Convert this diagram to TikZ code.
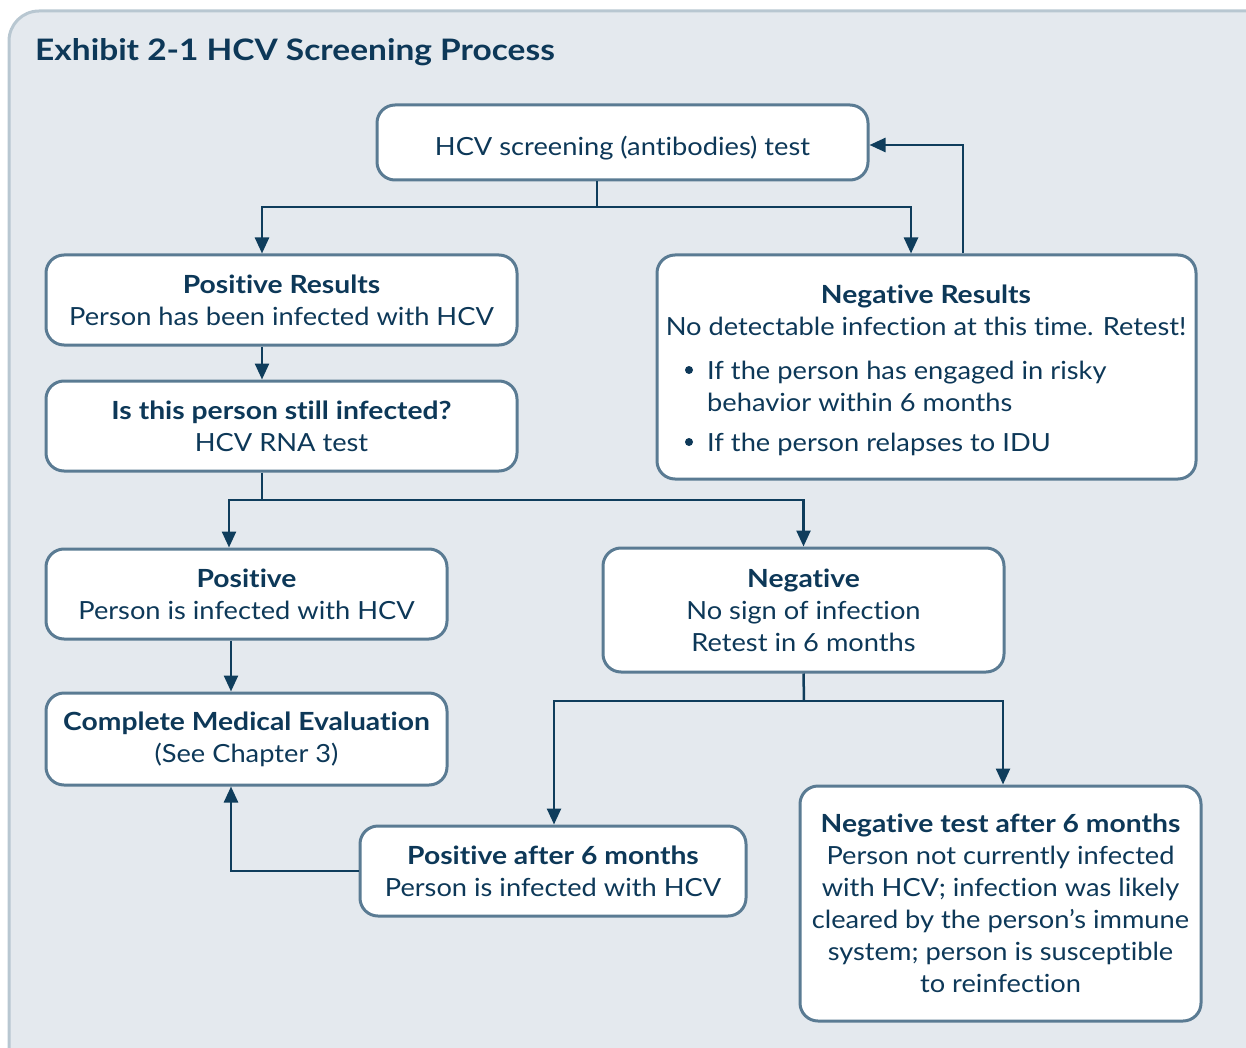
\documentclass[tikz,border=0pt]{standalone}
\usepackage{fontspec}
\setmainfont{Lato}[FakeStretch=1.09, Ligatures=NoCommon, BoldFeatures={FakeStretch=1.13}]
\usetikzlibrary{arrows.meta}
\definecolor{bgc}{HTML}{E4E9EE}
\definecolor{outc}{HTML}{B8C7D1}
\definecolor{bordc}{HTML}{5A7B93}
\definecolor{arrc}{HTML}{0F3D5C}
\definecolor{txtc}{HTML}{0D3858}
\begin{document}
\begin{tikzpicture}[x=1pt,y=-1pt,
  box/.style={draw=bordc, line width=3pt, rounded corners=18pt, fill=white, inner sep=0pt, align=center, text=txtc, font=\fontsize{25}{32}\selectfont},
  plain/.style={inner sep=0pt, text=txtc, font=\fontsize{25}{32}\selectfont},
  line/.style={draw=arrc, line width=2.5pt},
  conn/.style={draw=arrc, line width=2.5pt, -{Triangle[length=16pt,width=14pt]}}]
\useasboundingbox (0,0) rectangle (1246,1048);
\filldraw[fill=bgc, draw=outc, line width=3pt, rounded corners=30pt] (9,11) rectangle (1290,1090);
\node[plain, anchor=base west, font=\fontsize{29.6}{34}\selectfont\bfseries, text=txtc] (title) at (35,61) {Exhibit 2-1 HCV Screening Process};
% boxes
\node[box, minimum width=491pt, minimum height=75pt, text depth=0pt, text height=26pt] (top) at (622.5,142.5) {HCV screening (antibodies) test};
\node[box, minimum width=471pt, minimum height=90pt] (posres) at (281.5,300) {\textbf{Positive Results}\\Person has been infected with HCV};
\node[box, minimum width=539pt, minimum height=224pt] (negres) at (926.5,367) {};
\node[box, minimum width=471pt, minimum height=90pt] (still) at (281.5,426) {\textbf{Is this person still infected?}\\HCV RNA test};
\node[box, minimum width=401pt, minimum height=90pt] (pos) at (246.5,594) {\textbf{Positive}\\Person is infected with HCV};
\node[box, minimum width=401pt, minimum height=124pt] (neg) at (803.5,610) {\textbf{Negative}\\No sign of infection\\Retest in 6 months};
\node[box, minimum width=401pt, minimum height=92pt] (cme) at (246.5,739) {\textbf{Complete Medical Evaluation}\\(See Chapter 3)};
\node[box, minimum width=386pt, minimum height=90pt] (posafter) at (553,871) {\textbf{Positive after 6 months}\\Person is infected with HCV};
\node[box, minimum width=401pt, minimum height=235pt] (negafter) at (1000.5,903.5) {\textbf{Negative test after 6 months}\\Person not currently infected\\with HCV; infection was likely\\cleared by the person’s immune\\system; person is susceptible\\to reinfection};
% negative results text
\node[plain, anchor=base, font=\fontsize{25}{32}\selectfont\bfseries] (nrt) at (926,303) {Negative Results};
\node[plain, anchor=base] (nr1) at (926,335) {No detectable infection at this time. Retest!};
\node[plain, anchor=base west] (nb1) at (707,379) {If the person has engaged in risky};
\node[plain, anchor=base west] (nb2) at (707,411) {behavior within 6 months};
\node[plain, anchor=base west] (nb3) at (707,451) {If the person relapses to IDU};
\fill[txtc] (689,370) circle (4pt);
\fill[txtc] (689,442) circle (4pt);
% connectors
\coordinate (c1) at (597,207);
\coordinate (c2) at (262,500);
\coordinate (c3) at (804,701);
\draw[line] (top.south -| c1) -- (c1);
\draw[conn] (c1) -| ([xshift=-19.5pt]posres.north);
\draw[conn] (c1) -| ([xshift=-15.5pt]negres.north);
\draw[conn] ([xshift=36.5pt]negres.north) |- ([yshift=-2.5pt]top.east);
\draw[conn] ([xshift=-19.5pt]posres.south) -- ([xshift=-19.5pt]still.north);
\draw[line] ([xshift=-19.5pt]still.south) -- (c2);
\draw[conn] (c2) -| ([xshift=-17.5pt]pos.north);
\draw[conn] (c2) -| (neg.north);
\draw[conn] ([xshift=-15.5pt]pos.south) -- ([xshift=-15.5pt]cme.north);
\draw[line] (neg.south) -- (c3);
\draw[conn] (c3) -| ([xshift=1pt]posafter.north);
\draw[conn] (c3) -| ([xshift=2.5pt]negafter.north);
\draw[conn] (posafter.west) -| ([xshift=-15.5pt]cme.south);
\end{tikzpicture}
\end{document}
